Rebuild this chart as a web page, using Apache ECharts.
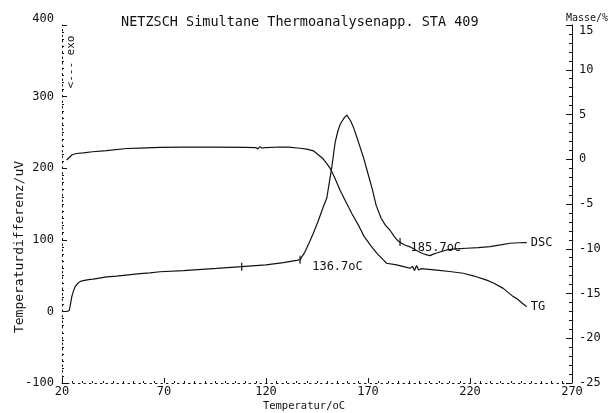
<!DOCTYPE html>
<html><head><meta charset="utf-8">
<script src="https://cdn.jsdelivr.net/npm/echarts@6/dist/echarts.min.js"></script>
<style>html,body{margin:0;padding:0;background:#fff}#c{width:609px;height:413px}</style>
</head><body><div id="c"></div>
<script>
// ---- data ----
const titleText = 'NETZSCH Simultane Thermoanalysenapp. STA 409';
const xTickValues = [20, 70, 120, 170, 220, 270];
const leftTickValues = [-100, 0, 100, 200, 300, 400];
const rightTickValues = [-25, -20, -15, -10, -5, 0, 5, 10, 15];

// DSC: temperature (oC) and signal (uV, left axis)
const dscTemp = [22.3,23.6,24.2,24.8,25.6,26.4,27.5,28.8,30.4,33.7,35.3,41.9,46.8,58.2,63.1,68,79.5,95.8,108.1,120,128.5,135,136.7,139,141,143.2,145.5,148.1,149.8,151.5,152.3,153.9,155.2,156.3,157.1,158.5,159.6,160.5,161.5,162.8,165,167.7,170,172,174,176.5,178.5,180.8,183,184.9,185.7,188,190.6,194,197,198.8,200.4,202,203.7,206,208.6,213,218.4,224,229.8,235,239.6,244,247.8];
const dscValue = [-0.4,1.6,10.8,20.7,28.3,34.4,38.5,41.6,43.1,44.7,45.2,48.2,49.3,52.8,53.9,55.4,56.9,60,62.5,65.1,68.2,71.3,72.3,82.5,94.8,109.2,125.6,146.1,158.4,188.1,202.4,236.2,251.6,260.8,264.9,271,274.1,272.1,265.9,257.7,239.3,215.7,192.2,171.7,148.1,129.7,120.5,113.3,104.1,97.9,96.9,92.8,90.2,84.6,80.5,78.9,77.9,80,81.5,83.6,85.8,87.2,88.2,89.2,90.4,92.8,95.2,95.9,96.1];

// TG: temperature (oC) and mass change (%, right axis)
const tgTemp = [22.3,23.1,24.8,27,30.4,35,41.9,51.7,58.2,68,79.5,95,110,115,116,117,118,120,126.9,131,136.7,140,143.2,145.5,148.1,149.8,151.4,153.8,156.3,158.7,162,165.7,168,171.7,174.5,177.5,179.1,184,188,190.6,191.8,192.8,193.8,194.8,196,203.7,210,216.7,222,228.2,231.5,236.3,241.2,242.9,245.5,247.8];
const tgValue = [-0.08,0.02,0.48,0.64,0.71,0.84,0.97,1.2,1.25,1.33,1.35,1.35,1.33,1.31,1.15,1.41,1.25,1.31,1.37,1.35,1.23,1.13,0.94,0.53,0.02,-0.49,-1,-2.13,-3.46,-4.55,-6.03,-7.53,-8.59,-9.77,-10.54,-11.25,-11.62,-11.81,-12.02,-12.18,-11.97,-12.43,-11.87,-12.38,-12.23,-12.38,-12.54,-12.74,-13.05,-13.51,-13.82,-14.43,-15.35,-15.56,-16.07,-16.48];

const markerTemps = [108.1, 136.7, 185.7];
const markerValues = [62.5, 72.3, 96.9];
const noteTexts = ['136.7oC', '185.7oC'];
const noteTemps = [142.4, 190.6];
const noteValues = [62.5, 88.2];

// ---- chart ----
const FONT = 'DejaVu Sans Mono';
const INK = '#111';
const zip = (a, b) => a.map((v, i) => [v, b[i]]);

const chart = echarts.init(document.getElementById('c'), null, {renderer: 'canvas'});

const markerData = markerTemps.map((t, i) => ({
  coord: [t, markerValues[i]], symbol: 'rect', symbolSize: [1.2, 8],
  itemStyle: {color: INK}, label: {show: false}
}));
const noteData = noteTexts.map((s, i) => ({
  coord: [noteTemps[i], noteValues[i]], symbol: 'circle', symbolSize: 1,
  itemStyle: {color: 'rgba(0,0,0,0)'},
  label: {show: true, formatter: s, position: 'right', distance: 0,
          color: INK, fontFamily: FONT, fontSize: 12}
}));

chart.setOption({
  animation: false,
  backgroundColor: '#fff',
  title: {
    text: titleText, left: 116, top: 10,
    textStyle: {fontFamily: FONT, fontSize: 13.5, fontWeight: 'normal', color: INK}
  },
  grid: {left: 62, right: 37, top: 25, bottom: 30, containLabel: false},
  xAxis: {
    type: 'value', min: 20, max: 270, interval: 50,
    axisLine: {show: true, onZero: false, lineStyle: {color: INK, width: 1, type: [1.5, 4]}},
    axisTick: {show: true, inside: true, length: 5, lineStyle: {color: INK}},
    minorTick: {show: true, splitNumber: 10, length: 2, lineStyle: {color: INK}},
    axisLabel: {fontFamily: FONT, fontSize: 12, color: INK, margin: 3,
      customValues: xTickValues},
    splitLine: {show: false}
  },
  yAxis: [{
    type: 'value', min: -100, max: 400, interval: 100, position: 'left',
    axisLine: {show: true, onZero: false, lineStyle: {color: INK, width: 1, type: [1.5, 4]}},
    axisTick: {show: true, inside: true, length: 5, lineStyle: {color: INK}},
    minorTick: {show: true, splitNumber: 10, length: 2, lineStyle: {color: INK}},
    axisLabel: {fontFamily: FONT, fontSize: 12, color: INK, margin: 8,
      verticalAlignMaxLabel: 'bottom', customValues: leftTickValues},
    splitLine: {show: false}
  }, {
    type: 'value', min: -25, max: 15, interval: 5, position: 'right',
    axisLine: {show: true, onZero: false, lineStyle: {color: INK, width: 1}},
    axisTick: {show: true, inside: true, length: 6, lineStyle: {color: INK}},
    minorTick: {show: true, splitNumber: 5, length: 3, lineStyle: {color: INK}},
    axisLabel: {fontFamily: FONT, fontSize: 12, color: INK, margin: 7,
      verticalAlignMaxLabel: 'top', customValues: rightTickValues},
    splitLine: {show: false}
  }],
  graphic: [
    {type: 'text', x: 20, y: 247, rotation: Math.PI / 2,
     style: {text: 'Temperaturdifferenz/uV', fill: INK, font: '13px "DejaVu Sans Mono"',
             align: 'center', verticalAlign: 'middle'}},
    {type: 'text', x: 71, y: 62, rotation: Math.PI / 2,
     style: {text: '<--- exo', fill: INK, font: '11px "DejaVu Sans Mono"',
             align: 'center', verticalAlign: 'middle'}},
    {type: 'text', x: 304, y: 406,
     style: {text: 'Temperatur/oC', fill: INK, font: '10.5px "DejaVu Sans Mono"',
             align: 'center', verticalAlign: 'middle'}},
    {type: 'text', x: 566, y: 18,
     style: {text: 'Masse/%', fill: INK, font: '10px "DejaVu Sans Mono"',
             align: 'left', verticalAlign: 'middle'}}
  ],
  series: [{
    name: 'DSC', type: 'line', yAxisIndex: 0, data: zip(dscTemp, dscValue),
    showSymbol: false, smooth: false,
    lineStyle: {color: INK, width: 1.2},
    endLabel: {show: true, formatter: 'DSC', color: INK, fontFamily: FONT, fontSize: 12, distance: 4},
    markPoint: {data: markerData.concat(noteData), animation: false}
  }, {
    name: 'TG', type: 'line', yAxisIndex: 1, data: zip(tgTemp, tgValue),
    showSymbol: false, smooth: false,
    lineStyle: {color: INK, width: 1.2},
    endLabel: {show: true, formatter: 'TG', color: INK, fontFamily: FONT, fontSize: 12, distance: 4}
  }]
});
</script>
</body></html>
